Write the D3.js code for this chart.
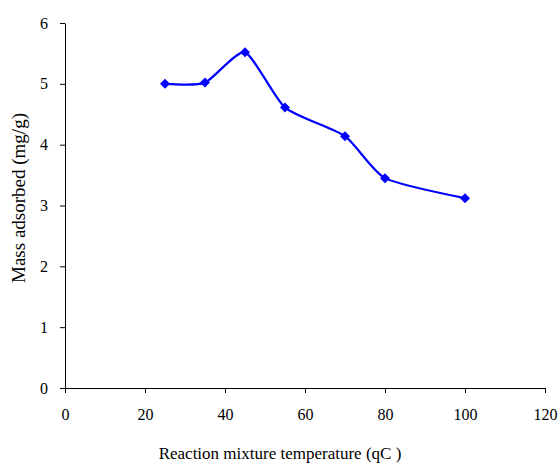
<!DOCTYPE html>
<html>
<head>
<meta charset="utf-8">
<style type="text/css">
    body { margin: 0; background: #fff; }
</style>
</head>
<body>
<svg width="560" height="464"></svg>
<script type="text/javascript" src="https://cdn.jsdelivr.net/npm/d3@7"></script>
<script type="text/javascript">

    // values
    const temperatures = [25, 35, 45, 55, 70, 80, 100];
    const massAdsorbed = [5.0, 5.02, 5.52, 4.61, 4.14, 3.45, 3.12];
    const xTicks = [0, 20, 40, 60, 80, 100, 120];
    const yTicks = [0, 1, 2, 3, 4, 5, 6];

    const svg = d3.select("svg"),
        plotLeft = 65, plotRight = 545, plotTop = 23, plotBottom = 388,
        serif = "Liberation Serif";

    const x = d3.scaleLinear().domain([0, 120]).range([plotLeft, plotRight]);
    const y = d3.scaleLinear().domain([0, 6]).range([plotBottom, plotTop]);

    // axes
    svg.append("g")
        .attr("transform", "translate(0," + plotBottom + ")")
        .call(d3.axisBottom(x).tickValues(xTicks).tickFormat(d => d)
            .tickSize(5).tickSizeOuter(0).tickPadding(16));
    svg.append("g")
        .attr("transform", "translate(" + plotLeft + ",0)")
        .call(d3.axisLeft(y).tickValues(yTicks).tickFormat(d => d)
            .tickSize(5).tickSizeOuter(0).tickPadding(12));

    svg.selectAll(".domain, .tick line").attr("stroke", "#000").attr("stroke-width", 1);
    svg.selectAll(".tick text")
        .style("font-family", serif)
        .style("font-size", "16px")
        .attr("fill", "#000");

    // axis titles
    svg.append("text")
        .attr("x", 280)
        .attr("y", 459)
        .attr("text-anchor", "middle")
        .style("font-family", serif)
        .style("font-size", "17px")
        .text("Reaction mixture temperature (qC )");

    svg.append("text")
        .attr("transform", "translate(25,198) rotate(-90)")
        .attr("text-anchor", "middle")
        .style("font-family", serif)
        .style("font-size", "19px")
        .text("Mass adsorbed (mg/g)");

    // smoothed line
    const pts = temperatures.map((t, i) => [t, massAdsorbed[i]]);
    const line = d3.line()
        .x(d => x(d[0]))
        .y(d => y(d[1]))
        .curve(d3.curveCardinal.tension(0.4));

    svg.append("path")
        .datum(pts)
        .attr("d", line)
        .attr("fill", "none")
        .attr("stroke", "#0000ff")
        .attr("stroke-width", 2.2);

    // diamond markers
    svg.selectAll(".marker")
        .data(pts)
        .enter()
        .append("path")
        .attr("class", "marker")
        .attr("transform", d => "translate(" + x(d[0]) + "," + y(d[1]) + ")")
        .attr("d", "M0,-5L5,0L0,5L-5,0Z")
        .attr("fill", "#0000ff");

</script>
</body>
</html>
